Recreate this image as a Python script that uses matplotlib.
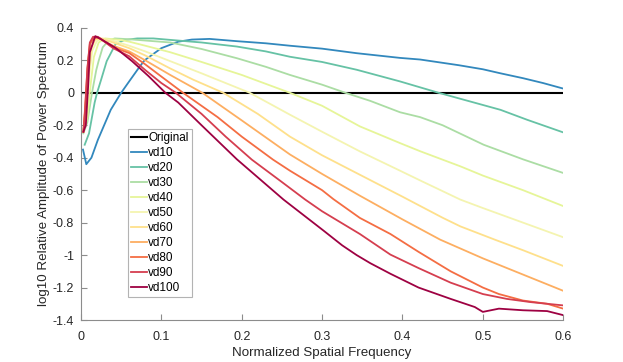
import numpy as np
import matplotlib
matplotlib.use('Agg')
import matplotlib.pyplot as plt

plt.rcParams['font.family'] = ['Liberation Sans', 'DejaVu Sans']

# Original spectrum (reference line, log10 ratio = 0)
orig_x = [0.0025, 0.6]
orig_y = [0.0, 0.0]

# each series: x positions and log10 relative amplitude
vd10_x = [0.0025, 0.0066, 0.013, 0.021, 0.037, 0.045, 0.05, 0.0585, 0.072, 0.079, 0.1, 0.121, 0.138, 0.16, 0.194, 0.23, 0.26, 0.3, 0.343, 0.397, 0.422, 0.47, 0.5, 0.522, 0.55, 0.575, 0.6]
vd10_y = [-0.35, -0.44, -0.40, -0.29, -0.105, -0.04, 0.0, 0.06, 0.154, 0.2, 0.275, 0.315, 0.328, 0.332, 0.318, 0.305, 0.29, 0.272, 0.244, 0.215, 0.205, 0.17, 0.145, 0.12, 0.09, 0.06, 0.026]

vd20_x = [0.0046, 0.01, 0.017, 0.02, 0.025, 0.032, 0.043, 0.054, 0.07, 0.09, 0.111, 0.15, 0.194, 0.23, 0.26, 0.3, 0.343, 0.397, 0.445, 0.5, 0.522, 0.555, 0.6]
vd20_y = [-0.32, -0.25, -0.06, 0.0, 0.08, 0.195, 0.3, 0.325, 0.335, 0.335, 0.326, 0.31, 0.285, 0.255, 0.222, 0.19, 0.142, 0.07, 0.0, -0.075, -0.105, -0.166, -0.244]

vd30_x = [0.003, 0.008, 0.0137, 0.019, 0.022, 0.027, 0.034, 0.042, 0.06, 0.08, 0.111, 0.15, 0.194, 0.23, 0.26, 0.3, 0.329, 0.36, 0.397, 0.422, 0.45, 0.501, 0.55, 0.6]
vd30_y = [-0.25, -0.18, 0.0, 0.14, 0.197, 0.28, 0.32, 0.335, 0.33, 0.322, 0.31, 0.27, 0.213, 0.16, 0.11, 0.05, 0.0, -0.05, -0.12, -0.15, -0.2, -0.32, -0.41, -0.494]

vd40_x = [0.003, 0.008, 0.012, 0.016, 0.022, 0.03, 0.05, 0.06, 0.08, 0.111, 0.15, 0.2, 0.26, 0.3, 0.347, 0.397, 0.422, 0.472, 0.5, 0.55, 0.6]
vd40_y = [-0.24, -0.15, 0.05, 0.22, 0.31, 0.335, 0.325, 0.315, 0.29, 0.25, 0.19, 0.11, 0.0, -0.08, -0.207, -0.31, -0.36, -0.453, -0.51, -0.6, -0.698]

vd50_x = [0.003, 0.007, 0.01, 0.014, 0.02, 0.027, 0.04, 0.06, 0.08, 0.111, 0.15, 0.18, 0.21, 0.26, 0.3, 0.347, 0.397, 0.422, 0.472, 0.5, 0.55, 0.6]
vd50_y = [-0.24, -0.1, 0.1, 0.26, 0.32, 0.335, 0.32, 0.29, 0.255, 0.195, 0.12, 0.06, 0.0, -0.135, -0.24, -0.361, -0.48, -0.54, -0.658, -0.71, -0.8, -0.89]

vd60_x = [0.003, 0.006, 0.009, 0.013, 0.018, 0.025, 0.04, 0.06, 0.08, 0.111, 0.14, 0.177, 0.22, 0.26, 0.3, 0.347, 0.4, 0.45, 0.472, 0.515, 0.55, 0.6]
vd60_y = [-0.24, -0.1, 0.12, 0.28, 0.33, 0.335, 0.31, 0.275, 0.23, 0.15, 0.08, 0.0, -0.13, -0.27, -0.385, -0.505, -0.64, -0.77, -0.823, -0.905, -0.97, -1.067]

vd70_x = [0.003, 0.006, 0.009, 0.012, 0.017, 0.023, 0.04, 0.06, 0.08, 0.111, 0.151, 0.2, 0.26, 0.3, 0.347, 0.4, 0.447, 0.5, 0.55, 0.6]
vd70_y = [-0.24, -0.05, 0.2, 0.31, 0.34, 0.335, 0.29, 0.255, 0.2, 0.11, 0.0, -0.17, -0.38, -0.5, -0.634, -0.78, -0.905, -1.02, -1.12, -1.22]

vd80_x = [0.003, 0.005, 0.008, 0.011, 0.016, 0.022, 0.04, 0.06, 0.08, 0.1, 0.127, 0.17, 0.2, 0.239, 0.26, 0.3, 0.314, 0.347, 0.385, 0.42, 0.46, 0.5, 0.52, 0.55, 0.58, 0.6]
vd80_y = [-0.24, -0.1, 0.15, 0.3, 0.34, 0.34, 0.28, 0.245, 0.175, 0.1, 0.0, -0.15, -0.27, -0.412, -0.48, -0.6, -0.655, -0.771, -0.87, -0.98, -1.1, -1.2, -1.24, -1.28, -1.3, -1.33]

vd90_x = [0.003, 0.005, 0.008, 0.011, 0.015, 0.021, 0.04, 0.06, 0.08, 0.1, 0.118, 0.15, 0.18, 0.2126, 0.25, 0.279, 0.3, 0.347, 0.385, 0.42, 0.46, 0.5, 0.53, 0.56, 0.6]
vd90_y = [-0.24, -0.12, 0.15, 0.31, 0.345, 0.345, 0.275, 0.225, 0.14, 0.06, 0.0, -0.13, -0.27, -0.412, -0.55, -0.658, -0.73, -0.87, -0.997, -1.08, -1.17, -1.24, -1.27, -1.29, -1.31]

vd100_x = [0.003, 0.006, 0.009, 0.011, 0.0178, 0.025, 0.043, 0.0635, 0.084, 0.105, 0.121, 0.15, 0.194, 0.252, 0.302, 0.325, 0.343, 0.36, 0.385, 0.42, 0.46, 0.49, 0.5, 0.52, 0.55, 0.58, 0.6]
vd100_y = [-0.24, -0.2, 0.05, 0.25, 0.349, 0.33, 0.277, 0.195, 0.103, 0.0, -0.06, -0.2, -0.41, -0.658, -0.85, -0.94, -1.0, -1.05, -1.115, -1.2, -1.27, -1.32, -1.35, -1.33, -1.34, -1.345, -1.37]

names = ['vd10', 'vd20', 'vd30', 'vd40', 'vd50', 'vd60', 'vd70', 'vd80', 'vd90', 'vd100']
xs = [vd10_x, vd20_x, vd30_x, vd40_x, vd50_x, vd60_x, vd70_x, vd80_x, vd90_x, vd100_x]
ys = [vd10_y, vd20_y, vd30_y, vd40_y, vd50_y, vd60_y, vd70_y, vd80_y, vd90_y, vd100_y]
colors = ['#3288bd', '#66c2a5', '#abdda4', '#e6f598', '#f4f4b0', '#fee08b',
          '#fdae61', '#f46d43', '#d53e4f', '#9e0142']

fig = plt.figure(figsize=(6.23, 3.62), dpi=100)
ax = fig.add_axes([0.13, 0.116, 0.774, 0.807])

ax.plot(orig_x, orig_y, color='black', lw=1.5, label='Original', zorder=1)
for x, y, c, n in zip(xs, ys, colors, names):
    ax.plot(x, y, color=c, lw=1.3, label=n)

ax.set_xlim(0, 0.6)
ax.set_ylim(-1.4, 0.4)
ax.set_xticks(np.arange(0, 0.61, 0.1))
ax.set_xticklabels(['0', '0.1', '0.2', '0.3', '0.4', '0.5', '0.6'])
yt = np.arange(-1.4, 0.41, 0.2)
ax.set_yticks(yt)
ax.set_yticklabels(['%g' % round(v, 1) if abs(v) > 1e-9 else '0' for v in yt])

for s in ['top', 'right']:
    ax.spines[s].set_visible(False)
for s in ['left', 'bottom']:
    ax.spines[s].set_color('#8c8c8c')
    ax.spines[s].set_linewidth(0.8)
ax.tick_params(direction='in', length=4, width=0.8, color='#8c8c8c',
               labelsize=9, labelcolor='#262626')
ax.tick_params(axis='x', pad=8)
ax.tick_params(axis='y', pad=5)

ax.set_xlabel('Normalized Spatial Frequency', fontsize=9.6, color='#262626', labelpad=3)
ax.set_ylabel('log10 Relative Amplitude of Power Spectrum', fontsize=9.6, color='#262626', labelpad=2)

leg = ax.legend(loc='upper left', bbox_to_anchor=(0.097, 0.655), fontsize=8.5,
                frameon=True, fancybox=False, handlelength=1.3, handletextpad=0.15,
                labelspacing=0.25, borderpad=0.3, borderaxespad=0)
leg.get_frame().set_edgecolor('#a0a0a0')
leg.get_frame().set_linewidth(0.8)

fig.savefig('out.png', dpi=100)
